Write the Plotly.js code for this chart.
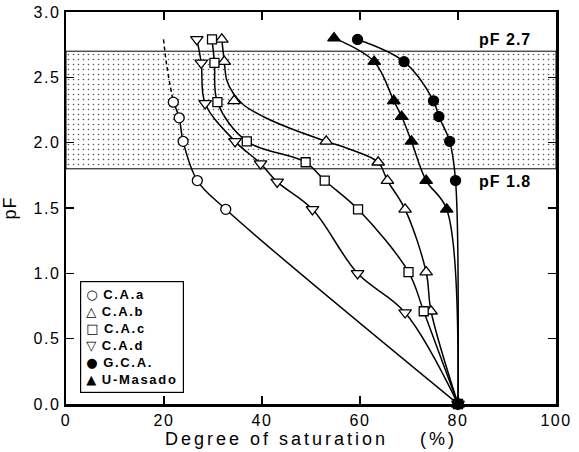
<!DOCTYPE html>
<html><head><meta charset="utf-8">
<script src="https://cdn.plot.ly/plotly-3.0.1.min.js"></script>
<style>
body{margin:0;background:#fff}
.xtitle{letter-spacing:3px}
.ytitle{letter-spacing:1px}
.xtick text,.ytick text{letter-spacing:1.5px}
.annotation-text{letter-spacing:1px}
</style></head><body>
<div id="chart" style="width:579px;height:452px"></div>
<script>
// C.A.a (open circles)
const caA_x = [21.9, 23.1, 23.9, 26.8, 32.6, 80];
const caA_y = [2.31, 2.19, 2.01, 1.71, 1.49, 0];
const caA_dashX = [19.9, 20.6, 21.9];
const caA_dashY = [2.79, 2.58, 2.31];
// C.A.b (open up-triangles)
const caB_x = [31.8, 32.3, 34.3, 53.1, 63.7, 65.6, 69.2, 73.5, 74.5, 80];
const caB_y = [2.79, 2.62, 2.32, 2.01, 1.85, 1.71, 1.49, 1.01, 0.71, 0];
const caB_curveX = [31.8, 32.3, 32.8, 34.1, 36.2, 40.2, 45.7, 53.1, 57.9, 63.7, 65.6, 69.2, 73.5, 74.5, 80];
const caB_curveY = [2.79, 2.62, 2.48, 2.38, 2.29, 2.20, 2.11, 2.01, 1.95, 1.85, 1.71, 1.49, 1.01, 0.71, 0];
// C.A.c (open squares)
const caC_x = [29.8, 30.3, 30.9, 36.9, 48.9, 52.8, 59.6, 69.9, 73.0, 80];
const caC_y = [2.79, 2.61, 2.31, 2.01, 1.85, 1.71, 1.49, 1.01, 0.71, 0];
// C.A.d (open down-triangles)
const caD_x = [26.7, 27.6, 28.4, 34.5, 39.7, 43.1, 50.3, 59.5, 69.2, 80];
const caD_y = [2.79, 2.61, 2.30, 2.01, 1.84, 1.70, 1.49, 1.00, 0.70, 0];
// G.C.A. (filled circles)
const gca_x = [59.5, 69.0, 75.0, 76.1, 78.3, 79.5, 80];
const gca_y = [2.79, 2.62, 2.32, 2.20, 2.01, 1.71, 0];
// U-Masado (filled triangles)
const um_x = [54.7, 62.9, 66.9, 68.5, 70.5, 73.5, 77.7, 80];
const um_y = [2.80, 2.62, 2.32, 2.20, 2.01, 1.71, 1.49, 0];
// legend
const seriesNames = ['C.A.a', 'C.A.b', 'C.A.c', 'C.A.d', 'G.C.A.', 'U-Masado'];
const seriesGlyphs = ['\u25CB', '\u25B3', '\u25A1', '\u25BD', '\u25CF', '\u25B2'];
// band limits
const bandLow = 1.8, bandHigh = 2.7;
const xMin = 0, xMax = 100;
const xTicks = [0, 20, 40, 60, 80, 100];
const yTicks = [0, 0.5, 1.0, 1.5, 2.0, 2.5, 3.0];
const yTickText = ['0.0','0.5','1.0','1.5','2.0','2.5','3.0'];

const lineStyle = {color:'#000', width:1.5, shape:'spline', smoothing:1};
function curve(x, y, extra) {
  return Object.assign({x:x, y:y, mode:'lines', line:lineStyle, showlegend:false, hoverinfo:'skip', cliponaxis:false}, extra||{});
}
function pts(name, x, y, symbol, fill, size) {
  return {x:x, y:y, mode:'markers', name:name, cliponaxis:false, showlegend:false,
    marker:{symbol:symbol, size:size, color:fill, line:{color:'#000', width:1.3}}};
}

const traces = [
  {x:[xMin,xMax,xMax,xMin,xMin], y:[bandLow,bandLow,bandHigh,bandHigh,bandLow], mode:'lines', fill:'toself',
   fillcolor:'rgba(0,0,0,0)', fillpattern:{shape:'.', size:5, solidity:0.08, fgcolor:'#555', bgcolor:'#fff'},
   line:{color:'#000', width:1}, showlegend:false, hoverinfo:'skip'},
  curve(caA_x, caA_y),
  curve(caA_dashX, caA_dashY, {line:{color:'#000', width:1.5, dash:'4px,3px', shape:'spline'}}),
  curve(caB_curveX, caB_curveY),
  curve(caC_x, caC_y),
  curve(caD_x, caD_y),
  curve(gca_x, gca_y),
  curve(um_x, um_y),
  pts(seriesNames[0], caA_x, caA_y, 'circle', '#fff', 10),
  pts(seriesNames[1], caB_x, caB_y, 'triangle-up', '#fff', 11),
  pts(seriesNames[2], caC_x, caC_y, 'square', '#fff', 9),
  pts(seriesNames[3], caD_x, caD_y, 'triangle-down', '#fff', 11),
  pts(seriesNames[4], gca_x, gca_y, 'circle', '#000', 10),
  pts(seriesNames[5], um_x, um_y, 'triangle-up', '#000', 11)
];

const legendText = seriesNames.map((n, i) =>
  '<span style="font-family:DejaVu Sans;font-weight:normal;font-size:13px">' + seriesGlyphs[i] + '</span> <span style="letter-spacing:1.7px"><b>' + n + '</b></span>'
).join('<br>');

const axisCommon = {showgrid:false, zeroline:false, showline:true, linecolor:'#000', linewidth:2.5,
  mirror:'ticks', ticks:'inside', ticklen:8, tickwidth:1.3, tickcolor:'#000',
  tickfont:{family:'Liberation Sans, Arial', size:16, color:'#000'}};

const layout = {
  width:579, height:452,
  margin:{l:66, r:23, t:12, b:48},
  paper_bgcolor:'#fff', plot_bgcolor:'#fff',
  showlegend:false,
  xaxis:Object.assign({}, axisCommon, {range:[xMin,xMax], tickvals:xTicks, ticktext:xTicks.map(String),
    title:{text:'Degree of saturation\u00A0\u00A0\u00A0\u00A0(%)', standoff:4, font:{family:'Liberation Sans, Arial', size:18, color:'#000'}}}),
  yaxis:Object.assign({}, axisCommon, {range:[0,3], tickvals:yTicks, ticktext:yTickText,
    title:{text:'pF', standoff:19, font:{family:'Liberation Sans, Arial', size:18, color:'#000'}}}),
  annotations:[
    {x:89.5, y:bandHigh+0.09, xref:'x', yref:'y', text:'pF 2.7', showarrow:false,
     font:{family:'Liberation Sans, Arial', size:16, color:'#000', weight:'bold'}},
    {x:89.5, y:bandLow-0.1, xref:'x', yref:'y', text:'pF 1.8', showarrow:false,
     font:{family:'Liberation Sans, Arial', size:16, color:'#000', weight:'bold'}},
    {x:0.029, y:0.029, xref:'paper', yref:'paper', xanchor:'left', yanchor:'bottom', align:'left',
     text:legendText, showarrow:false, bgcolor:'#fff', bordercolor:'#000', borderwidth:1.2, borderpad:5,
     font:{family:'Liberation Sans, Arial', size:13, color:'#000'}}
  ]
};
Plotly.newPlot('chart', traces, layout, {displayModeBar:false, staticPlot:true});
</script></body></html>
